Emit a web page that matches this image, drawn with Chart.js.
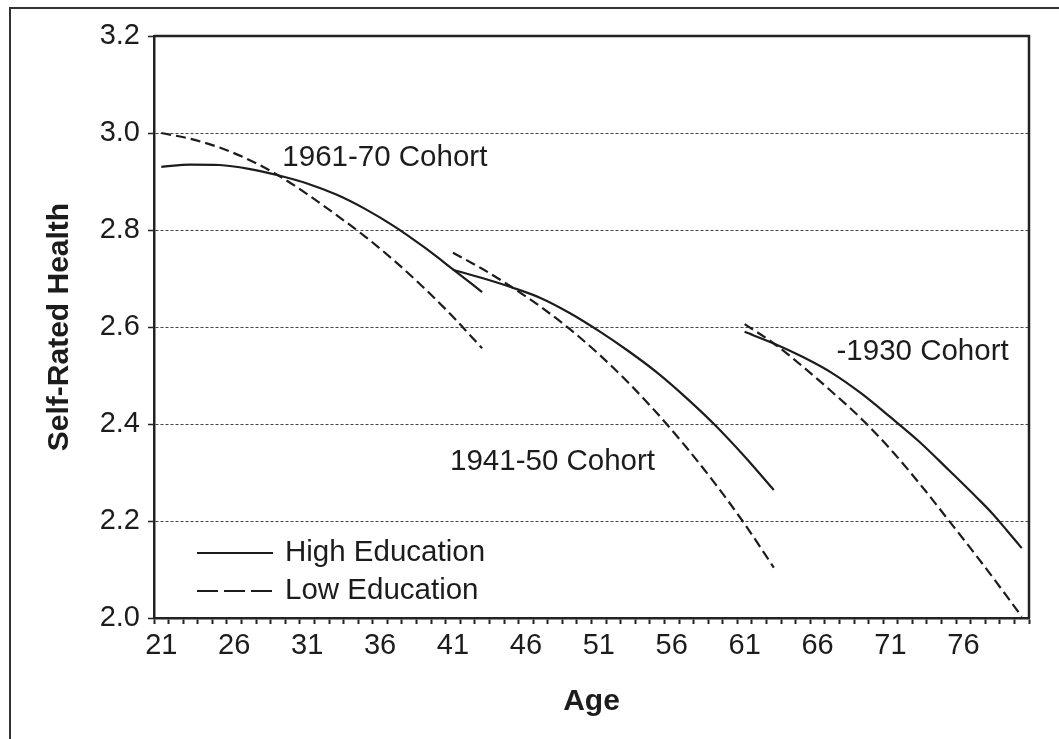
<!DOCTYPE html>
<html>
<head>
<meta charset="utf-8">
<script src="https://cdn.jsdelivr.net/npm/chart.js@4/dist/chart.umd.min.js"></script>
<style>
  html, body { margin: 0; padding: 0; background: #fff; overflow: hidden; }
  .frame { position: absolute; left: 9px; top: 7px; width: 1200px; height: 900px; border: 2px solid #333; }
  .graph { position: absolute; left: 0; top: 0; width: 1059px; height: 739px; }
</style>
</head>
<body>
<div class="frame"></div>
<div class="graph">
  <canvas id="canv" width="1059" height="739"></canvas>
</div>
<script>
// ages on the x axis (one category per year)
const ages = [];
for (let a = 21; a <= 80; a++) ages.push(String(a));

// y axis ticks
const yTicks = [2.0, 2.2, 2.4, 2.6, 2.8, 3.0, 3.2];

// 1961-70 cohort
const ages1961 = [21, 23, 25, 27, 29, 31, 33, 35, 37, 39, 41, 43];
const high1961 = [2.930, 2.935, 2.934, 2.926, 2.913, 2.896, 2.873, 2.843, 2.807, 2.765, 2.719, 2.672];
const low1961  = [3.000, 2.988, 2.970, 2.945, 2.913, 2.874, 2.831, 2.786, 2.736, 2.681, 2.621, 2.556];

// 1941-50 cohort
const ages1941 = [41, 43, 45, 47, 49, 51, 53, 55, 57, 59, 61, 63];
const high1941 = [2.718, 2.701, 2.682, 2.660, 2.629, 2.592, 2.551, 2.506, 2.454, 2.397, 2.333, 2.264];
const low1941  = [2.753, 2.720, 2.683, 2.642, 2.596, 2.544, 2.486, 2.422, 2.352, 2.276, 2.194, 2.104];

// -1930 cohort
const ages1930High = [61, 63, 65, 67, 69, 71, 73, 75, 77, 78, 79, 80];
const high1930     = [2.590, 2.566, 2.538, 2.505, 2.463, 2.414, 2.363, 2.305, 2.246, 2.215, 2.180, 2.144];
const ages1930Low  = [61, 63, 65, 67, 69, 71, 73, 75, 77, 79, 80];
const low1930      = [2.606, 2.566, 2.518, 2.466, 2.411, 2.348, 2.277, 2.201, 2.124, 2.044, 2.003];

// cohort labels: text, age, value
const cohortLabels = [
  ['1961-70 Cohort', 29.3, 2.948],
  ['1941-50 Cohort', 40.8, 2.322],
  ['-1930 Cohort', 67.3, 2.549]
];

const legendItems = ['High Education', 'Low Education'];

const FONT = '"Liberation Sans", Arial, Helvetica, sans-serif';
const INK = '#1c1c1c';

const pts = (xs, ys) => xs.map((a, i) => ({x: String(a), y: ys[i]}));
const solid = (xs, ys) => ({
  data: pts(xs, ys), borderColor: INK, borderWidth: 2.2, pointRadius: 0,
  cubicInterpolationMode: 'monotone', fill: false
});
const dashed = (xs, ys) => Object.assign(solid(xs, ys), {borderDash: [10, 5]});

const overlay = {
  id: 'overlay',
  afterDraw(chart) {
    const ctx = chart.ctx;
    const {left, right, top, bottom} = chart.chartArea;
    const xs = chart.scales.x, ys = chart.scales.y;
    ctx.save();
    // box round the plot
    ctx.strokeStyle = '#222';
    ctx.lineWidth = 2.5;
    ctx.beginPath();
    ctx.moveTo(left, top); ctx.lineTo(right, top); ctx.lineTo(right, bottom);
    ctx.stroke();

    ctx.fillStyle = INK;
    ctx.font = '29.5px ' + FONT;
    ctx.textBaseline = 'middle';
    ctx.textAlign = 'left';
    cohortLabels.forEach(([t, a, v]) => {
      ctx.fillText(t, xs.getPixelForValue(a - 21), ys.getPixelForValue(v));
    });

    // legend
    const lx = left + 43;
    legendItems.forEach((t, i) => {
      const y = bottom - 65 + i * 38;
      ctx.strokeStyle = INK;
      ctx.lineWidth = 2;
      ctx.setLineDash(i === 0 ? [] : [21, 6]);
      ctx.beginPath(); ctx.moveTo(lx, y); ctx.lineTo(lx + 76, y); ctx.stroke();
      ctx.setLineDash([]);
      ctx.fillText(t, lx + 88, y);
    });
    ctx.restore();
  }
};

new Chart(document.getElementById('canv').getContext('2d'), {
  type: 'line',
  data: {
    labels: ages,
    datasets: [
      solid(ages1961, high1961), dashed(ages1961, low1961),
      solid(ages1941, high1941), dashed(ages1941, low1941),
      solid(ages1930High, high1930), dashed(ages1930Low, low1930)
    ]
  },
  options: {
    responsive: false,
    animation: false,
    events: [],
    layout: {padding: {top: 36, right: 30, left: 0, bottom: 0}},
    plugins: {legend: {display: false}, tooltip: {enabled: false}},
    scales: {
      x: {
        type: 'category',
        offset: true,
        afterFit: s => { s.height = 121; },
        grid: {
          offset: true, drawOnChartArea: false, drawTicks: true,
          tickLength: 6, tickColor: '#222', tickWidth: 2
        },
        border: {color: '#222', width: 2.5},
        ticks: {
          autoSkip: false, maxRotation: 0, padding: 5, color: INK,
          font: {family: FONT, size: 29},
          callback: function (v, i) {
            const a = Number(this.getLabelForValue(v));
            return (a - 21) % 5 === 0 ? String(a) : '';
          }
        },
        title: {
          display: true, text: 'Age', color: INK,
          font: {family: FONT, size: 30, weight: 'bold'},
          padding: {top: 19, bottom: 19}
        }
      },
      y: {
        min: 2.0, max: 3.2,
        afterFit: s => { s.width = 154; },
        afterBuildTicks: s => { s.ticks = yTicks.map(v => ({value: v})); },
        grid: {
          color: ctx => (ctx.index === 0 || ctx.index === yTicks.length - 1) ? 'rgba(0,0,0,0)' : '#444',
          lineWidth: 1,
          drawTicks: true, tickLength: 6, tickColor: '#222', tickWidth: 1.5
        },
        border: {color: '#222', width: 2.5, dash: [3, 2]},
        ticks: {
          padding: 8, color: INK,
          font: {family: FONT, size: 29},
          callback: v => Number(v).toFixed(1)
        },
        title: {
          display: true, text: 'Self-Rated Health', color: INK,
          font: {family: FONT, size: 30, weight: 'bold'},
          padding: {top: 42, bottom: 42}
        }
      }
    }
  },
  plugins: [overlay]
});
</script>
</body>
</html>
